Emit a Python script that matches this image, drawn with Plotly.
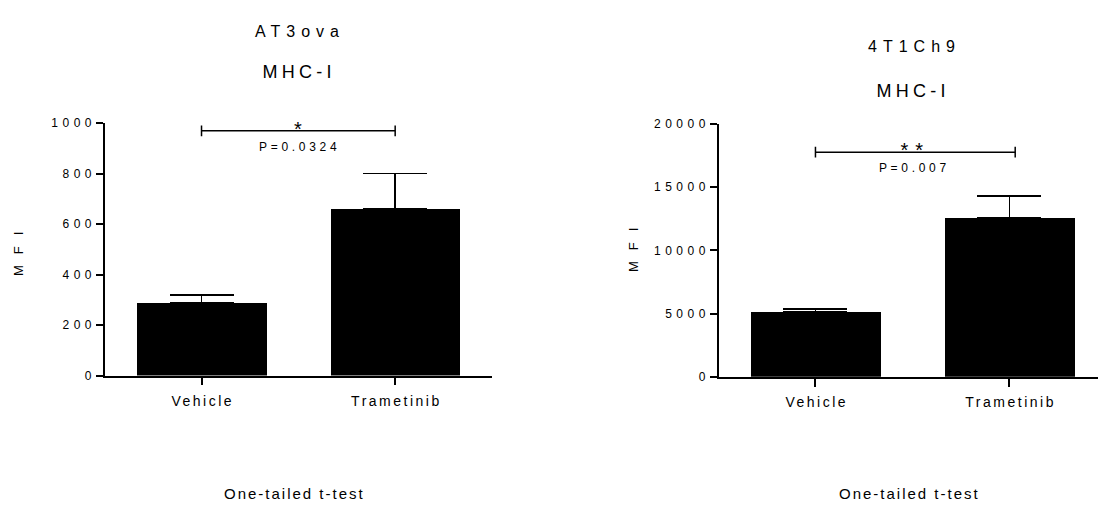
import plotly.graph_objects as go

# ---------------- data ----------------
categories = ["Vehicle", "Trametinib"]
at3_mean = [287, 660]
at3_sem = [32, 141]
t41_mean = [5154, 12562]
t41_sem = [231, 1746]
at3_ticks = [0, 200, 400, 600, 800, 1000]
t41_ticks = [0, 5000, 10000, 15000, 20000]
panel_line1 = ["AT3ova", "4T1Ch9"]
panel_line2 = ["MHC-I", "MHC-I"]
y_title = "MFI"
footnote = "One-tailed t-test"
stars = ["*", "**"]
pvals = ["P=0.0324", "P=0.007"]
bracket_y = [969, 17769]
bracket_x = [[0, 1], [0, 1.03]]
bracket_tick = [21, 423]

W, H = 1098, 509
FONT = "Liberation Sans, Arial, sans-serif"
BLACK = "#000000"


def px(x):
    return x / W


def py(y):
    return 1 - y / H


fig = go.Figure()
for i, (m, e) in enumerate([(at3_mean, at3_sem), (t41_mean, t41_sem)]):
    sfx = "" if i == 0 else "2"
    fig.add_trace(go.Bar(
        x=categories, y=m,
        error_y=dict(type="data", array=e, arrayminus=[0] * len(e), symmetric=False,
                     color=BLACK, thickness=1.5, width=32),
        marker=dict(color=BLACK, line=dict(width=0)),
        width=0.67,
        xaxis="x" + sfx, yaxis="y" + sfx,
        showlegend=False, hoverinfo="skip",
    ))

axis_common = dict(showline=True, linecolor=BLACK, linewidth=1.5, ticks="outside",
                   tickcolor=BLACK, tickwidth=1.5, showgrid=False, zeroline=False,
                   fixedrange=True)

fig.update_layout(
    width=W, height=H, autosize=False,
    margin=dict(l=0, r=0, t=0, b=0, pad=0),
    paper_bgcolor="white", plot_bgcolor="white",
    font=dict(family=FONT, color=BLACK),
    bargap=0,
    xaxis=dict(domain=[px(104.7), px(492)], range=[-0.5, 1.5], type="category",
               categoryorder="array", categoryarray=categories,
               anchor="y", ticklen=8, tickfont=dict(size=14), ticklabelstandoff=4,
               **axis_common),
    yaxis=dict(domain=[py(379), py(119.3)], range=[0, 1000], tickvals=at3_ticks,
               tickformat="d",
               anchor="x", ticklen=7, tickfont=dict(size=12), ticklabelstandoff=2,
               **axis_common),
    xaxis2=dict(domain=[px(718.5), 1.0], range=[-0.5, 1.457], type="category",
                categoryorder="array", categoryarray=categories,
                anchor="y2", ticklen=8, tickfont=dict(size=14), ticklabelstandoff=4,
                **axis_common),
    yaxis2=dict(domain=[py(380.3), py(120.3)], range=[0, 20000], tickvals=t41_ticks,
                tickformat="d",
                anchor="x2", ticklen=7, tickfont=dict(size=12), ticklabelstandoff=2,
                **axis_common),
)

# significance brackets
for i in range(2):
    sfx = "" if i == 0 else "2"
    xr, yr = "x" + sfx, "y" + sfx
    x0, x1 = bracket_x[i]
    yb, tk = bracket_y[i], bracket_tick[i]
    line = dict(color=BLACK, width=1.5)
    fig.add_shape(type="line", xref=xr, yref=yr, x0=x0, x1=x1, y0=yb, y1=yb, line=line)
    fig.add_shape(type="line", xref=xr, yref=yr, x0=x0, x1=x0, y0=yb - tk, y1=yb + tk, line=line)
    fig.add_shape(type="line", xref=xr, yref=yr, x0=x1, x1=x1, y0=yb - tk, y1=yb + tk, line=line)
    fig.add_annotation(xref=xr, yref=yr, x=0.5, y=yb, text=stars[i],
                       showarrow=False, yanchor="middle", yshift=2, font=dict(size=20))
    fig.add_annotation(xref=xr, yref=yr, x=0.5, y=yb, text=pvals[i],
                       showarrow=False, yanchor="middle", yshift=-16, font=dict(size=12))

# titles & labels (paper coordinates)
title_pos = [(297, 25, 67), (911, 41, 86)]
mfi_pos = [(18, 254), (633, 250)]
foot_pos = [(294, 500), (909, 500)]
for i in range(2):
    cx, y1, y2 = title_pos[i]
    fig.add_annotation(xref="paper", yref="paper", x=px(cx), y=py(y1), text=panel_line1[i],
                       showarrow=False, xanchor="center", yanchor="middle", font=dict(size=16))
    fig.add_annotation(xref="paper", yref="paper", x=px(cx), y=py(y2), text=panel_line2[i],
                       showarrow=False, xanchor="center", yanchor="middle", font=dict(size=18))
    mx, my = mfi_pos[i]
    fig.add_annotation(xref="paper", yref="paper", x=px(mx), y=py(my), text=y_title,
                       showarrow=False, textangle=-90, xanchor="center", yanchor="middle",
                       font=dict(size=13))
    fx, fy = foot_pos[i]
    fig.add_annotation(xref="paper", yref="paper", x=px(fx), y=py(fy), text=footnote,
                       showarrow=False, xanchor="center", yanchor="middle", font=dict(size=15))

post = """
document.documentElement.style.margin = '0';
document.documentElement.style.padding = '0';
document.documentElement.style.overflow = 'hidden';
document.body.style.margin = '0';
document.body.style.padding = '0';
document.body.style.overflow = 'hidden';
var sp = {'AT3ova': 6, '4T1Ch9': 6, 'MHC-I': 4.3, 'MFI': 11, 'Vehicle': 2.5,
          'Trametinib': 2.5, 'One-tailed t-test': 2, 'P=0.0324': 3.7, 'P=0.007': 3.7,
          '**': 7};
var gd = document.getElementById('{plot_id}');
gd.querySelectorAll('text').forEach(function(t){
  var s = t.textContent;
  var v = sp.hasOwnProperty(s) ? sp[s] : (/^[0-9]+$/.test(s) ? 4.5 : 0);
  if (v) {
    t.style.letterSpacing = v + 'px';
    var a = t.getAttribute('text-anchor');
    if (a === 'end') { t.setAttribute('dx', v); }
    else if (a === 'middle') { t.setAttribute('dx', v / 2); }
  }
});
"""

fig.write_html("out.html", post_script=post, config={"displayModeBar": False})
